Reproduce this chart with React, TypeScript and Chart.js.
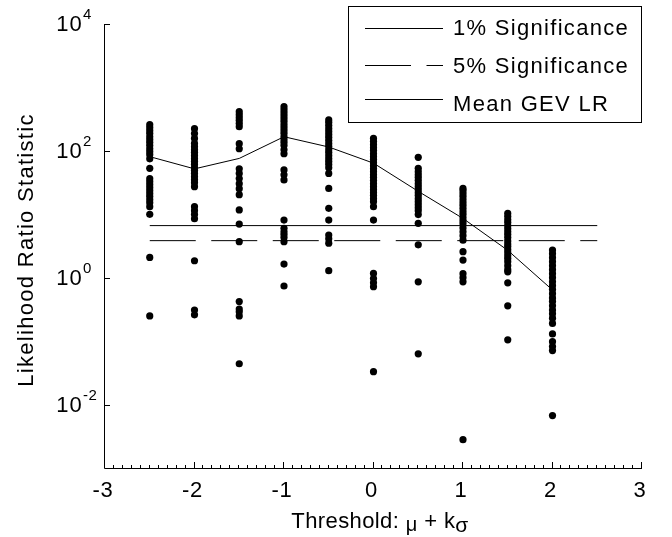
import React, { useEffect, useRef } from "react";
import { Chart, registerables } from "chart.js";

Chart.register(...registerables);

// Threshold values (mu + k*sigma, expressed as k)
const thresholds = [-2.5, -2, -1.5, -1, -0.5, 0, 0.5, 1, 1.5, 2];

// Likelihood-ratio statistics for each threshold
const lrAtM25 = [259, 232, 208, 187, 167, 150, 135, 121, 108, 97, 87, 75, 53, 36.4, 32.7, 29.3, 26.3, 23.6, 21.1, 19.0, 17.0, 15.2, 13.2, 10, 2.09, 0.25];
const lrAtM20 = [224, 187, 157, 131, 116, 104, 94, 84, 75, 68, 61, 54, 49, 44, 39, 35, 31.5, 27.2, 13.2, 11.4, 9.9, 8.5, 1.85, 0.31, 0.26];
const lrAtM15 = [415, 372, 334, 300, 269, 241, 130, 108, 52, 44, 36.5, 30.4, 25.3, 20.4, 11.7, 7.0, 3.7, 0.42, 0.32, 0.29, 0.25, 0.044];
const lrAtM10 = [498, 446, 400, 359, 322, 289, 259, 232, 208, 187, 167, 150, 135, 121, 104, 90, 50, 42, 34.8, 8.1, 6.0, 5.3, 4.8, 4.3, 3.7, 1.64, 0.74];
const lrAtM05 = [307, 279, 250, 224, 201, 180, 162, 145, 130, 117, 104, 94, 84, 75, 68, 61, 54, 44, 25.6, 12.4, 8.1, 4.7, 4.1, 3.5, 1.29];
const lrAt00 = [157, 140, 125, 112, 101, 90, 81, 73, 65, 58, 52, 47, 42, 38, 34, 30.4, 27.2, 24.4, 21.9, 19.7, 17.6, 15.8, 13.2, 8.1, 1.17, 0.97, 0.83, 0.72, 0.033];
const lrAt05 = [79, 53, 47, 42, 38, 34, 30.4, 27.2, 24.4, 21.9, 19.7, 17.6, 15.8, 14.2, 12.7, 11.4, 9.9, 7.2, 3.3, 0.86, 0.063];
const lrAt10 = [25.6, 23.6, 21.1, 19.0, 17.0, 15.2, 13.7, 12.3, 11.0, 9.9, 8.8, 7.9, 7.1, 6.1, 5.3, 4.6, 3.9, 2.57, 1.9, 1.16, 1.0, 0.86, 0.0028];
const lrAt15 = [10.3, 9.2, 8.2, 7.4, 6.6, 5.9, 5.3, 4.8, 4.3, 3.8, 3.4, 3.1, 2.77, 2.48, 2.22, 2.0, 1.79, 1.55, 1.34, 1.24, 0.83, 0.36, 0.105];
const lrAt20 = [2.73, 2.39, 2.07, 1.79, 1.55, 1.34, 1.16, 1.0, 0.86, 0.75, 0.65, 0.56, 0.48, 0.42, 0.36, 0.31, 0.27, 0.23, 0.19, 0.13, 0.098, 0.082, 0.071, 0.0067];

const lrColumns = [lrAtM25, lrAtM20, lrAtM15, lrAtM10, lrAtM05, lrAt00, lrAt05, lrAt10, lrAt15, lrAt20];

// Mean GEV likelihood ratio per threshold
const meanLR = [81, 52, 76, 167, 115, 64, 23, 8.6, 2.7, 0.64];

// Chi-square critical values (1 dof)
const sig1 = 6.63;
const sig5 = 3.84;
const sigRangeX = [-2.5, 2.5];

// Axis ticks
const xMajorTicks = [-3, -2, -1, 0, 1, 2, 3];
const xMinorStep = 0.1;
const xMin = -3;
const xMax = 3;
const yMin = 1e-3;
const yMax = 1e4;
const yTickExponents = [-2, 0, 2, 4];

const xTitleParts = [
  { text: "Threshold: ", size: 22, dy: 0 },
  { text: "μ", size: 20, dy: 3 },
  { text: " + k", size: 22, dy: 0 },
  { text: "σ", size: 21, dy: 3.5 },
];
const yTitle = "Likelihood Ratio Statistic";

const FONT = '"Liberation Sans", Arial, sans-serif';
const DASH = [46, 15.5];

function setSpacing(ctx: any, px: number) {
  try {
    ctx.letterSpacing = `${px}px`;
  } catch (e) {
    /* ignore */
  }
}

const axesPlugin = {
  id: "customAxes",
  afterDraw(chart: any) {
    const ctx: any = chart.ctx;
    const xs = chart.scales.x;
    const ys = chart.scales.y;
    const { left, right, top, bottom } = chart.chartArea;
    ctx.save();
    ctx.strokeStyle = "#000";
    ctx.fillStyle = "#000";
    ctx.lineWidth = 1;
    ctx.setLineDash([]);

    // axis lines (left and bottom only)
    ctx.beginPath();
    ctx.moveTo(left - 0.5, top);
    ctx.lineTo(left - 0.5, bottom + 0.5);
    ctx.lineTo(right, bottom + 0.5);
    ctx.stroke();

    // x minor/major ticks (inward)
    ctx.beginPath();
    const nMinor = Math.round((xMax - xMin) / xMinorStep);
    for (let i = 0; i <= nMinor; i++) {
      const v = xMin + i * xMinorStep;
      const px = Math.round(xs.getPixelForValue(v)) - 0.5;
      const isMajor = Math.abs(v - Math.round(v)) < 1e-6;
      const len = isMajor ? 6 : 3;
      ctx.moveTo(px, bottom);
      ctx.lineTo(px, bottom - len);
    }
    ctx.stroke();

    // y major ticks (inward)
    ctx.beginPath();
    yTickExponents.forEach((e) => {
      const py = Math.round(ys.getPixelForValue(Math.pow(10, e))) + 0.5;
      ctx.moveTo(left, py);
      ctx.lineTo(left + 5, py);
    });
    ctx.stroke();

    // x tick labels
    setSpacing(ctx, 0.6);
    ctx.font = `22px ${FONT}`;
    ctx.textAlign = "center";
    ctx.textBaseline = "alphabetic";
    xMajorTicks.forEach((v) => {
      const px = xs.getPixelForValue(v);
      ctx.fillText(String(v), px - 2, 496.5);
    });

    // y tick labels: "10" with superscript exponent
    yTickExponents.forEach((e) => {
      const py = ys.getPixelForValue(Math.pow(10, e));
      setSpacing(ctx, 1.2);
      ctx.font = `22px ${FONT}`;
      ctx.textAlign = "right";
      ctx.fillText("10", 83, py + 7);
      setSpacing(ctx, 0.5);
      ctx.font = `15px ${FONT}`;
      ctx.textAlign = "left";
      ctx.fillText(String(e), 83, py - 5);
    });

    // x title
    setSpacing(ctx, 0.4);
    let total = 0;
    xTitleParts.forEach((p) => {
      ctx.font = `${p.size}px ${FONT}`;
      total += ctx.measureText(p.text).width;
    });
    let cx = 380 - total / 2;
    ctx.textAlign = "left";
    xTitleParts.forEach((p) => {
      ctx.font = `${p.size}px ${FONT}`;
      ctx.fillText(p.text, cx, 528 + p.dy);
      cx += ctx.measureText(p.text).width;
    });

    // y title
    ctx.save();
    setSpacing(ctx, 1.3);
    ctx.translate(33, 250);
    ctx.rotate(-Math.PI / 2);
    ctx.font = `22px ${FONT}`;
    ctx.textAlign = "center";
    ctx.textBaseline = "alphabetic";
    ctx.fillText(yTitle, 0, 0);
    ctx.restore();

    // legend
    const lx0 = 348.5, ly0 = 6.5, lx1 = 641.5, ly1 = 122.5;
    ctx.fillStyle = "#fff";
    ctx.fillRect(lx0, ly0, lx1 - lx0, ly1 - ly0);
    ctx.strokeStyle = "#000";
    ctx.strokeRect(lx0, ly0, lx1 - lx0, ly1 - ly0);
    const items = chart.data.datasets.filter((d: any) => d.showInLegend);
    const lineYs = [28.5, 65.5, 99.5];
    const textYs = [35, 73, 111];
    ctx.fillStyle = "#000";
    setSpacing(ctx, 1.3);
    ctx.font = `22px ${FONT}`;
    ctx.textAlign = "left";
    items.forEach((d: any, i: number) => {
      ctx.beginPath();
      ctx.setLineDash(d.borderDash || []);
      ctx.lineDashOffset = 0;
      ctx.moveTo(365, lineYs[i]);
      ctx.lineTo(443, lineYs[i]);
      ctx.stroke();
      ctx.setLineDash([]);
      ctx.fillText(d.label, 453, textYs[i]);
    });
    setSpacing(ctx, 0);
    ctx.restore();
  },
};

export default function App() {
  const canvasRef = useRef<HTMLCanvasElement | null>(null);

  useEffect(() => {
    const canvas = canvasRef.current;
    if (!canvas) return;
    const points: { x: number; y: number }[] = [];
    lrColumns.forEach((col, i) => {
      col.forEach((v) => points.push({ x: thresholds[i], y: v }));
    });

    const chart = new Chart(canvas, {
      type: "scatter",
      data: {
        datasets: [
          {
            label: "GEV LR",
            data: points,
            pointRadius: 3.6,
            pointBackgroundColor: "#000",
            pointBorderWidth: 0,
            showLine: false,
          } as any,
          {
            label: "1% Significance",
            data: sigRangeX.map((x) => ({ x, y: sig1 })),
            showLine: true,
            borderColor: "#000",
            borderWidth: 1,
            pointRadius: 0,
            showInLegend: true,
          } as any,
          {
            label: "5% Significance",
            data: sigRangeX.map((x) => ({ x, y: sig5 })),
            showLine: true,
            borderColor: "#000",
            borderWidth: 1,
            borderDash: DASH,
            pointRadius: 0,
            showInLegend: true,
          } as any,
          {
            label: "Mean GEV LR",
            data: thresholds.map((x, i) => ({ x, y: meanLR[i] })),
            showLine: true,
            borderColor: "#000",
            borderWidth: 1,
            pointRadius: 0,
            showInLegend: true,
          } as any,
        ],
      },
      options: {
        animation: false,
        responsive: false,
        devicePixelRatio: 1,
        layout: { padding: { left: 105, right: 30, top: 24, bottom: 69 } },
        plugins: {
          legend: { display: false },
          tooltip: { enabled: false },
        },
        scales: {
          x: { type: "linear", min: xMin, max: xMax, display: false },
          y: { type: "logarithmic", min: yMin, max: yMax, display: false },
        },
      },
      plugins: [axesPlugin],
    });
    return () => chart.destroy();
  }, []);

  return (
    <div style={{ position: "absolute", left: 0, top: 0, width: 672, height: 537, background: "#fff" }}>
      <canvas ref={canvasRef} width={672} height={537} style={{ display: "block" }} />
    </div>
  );
}
